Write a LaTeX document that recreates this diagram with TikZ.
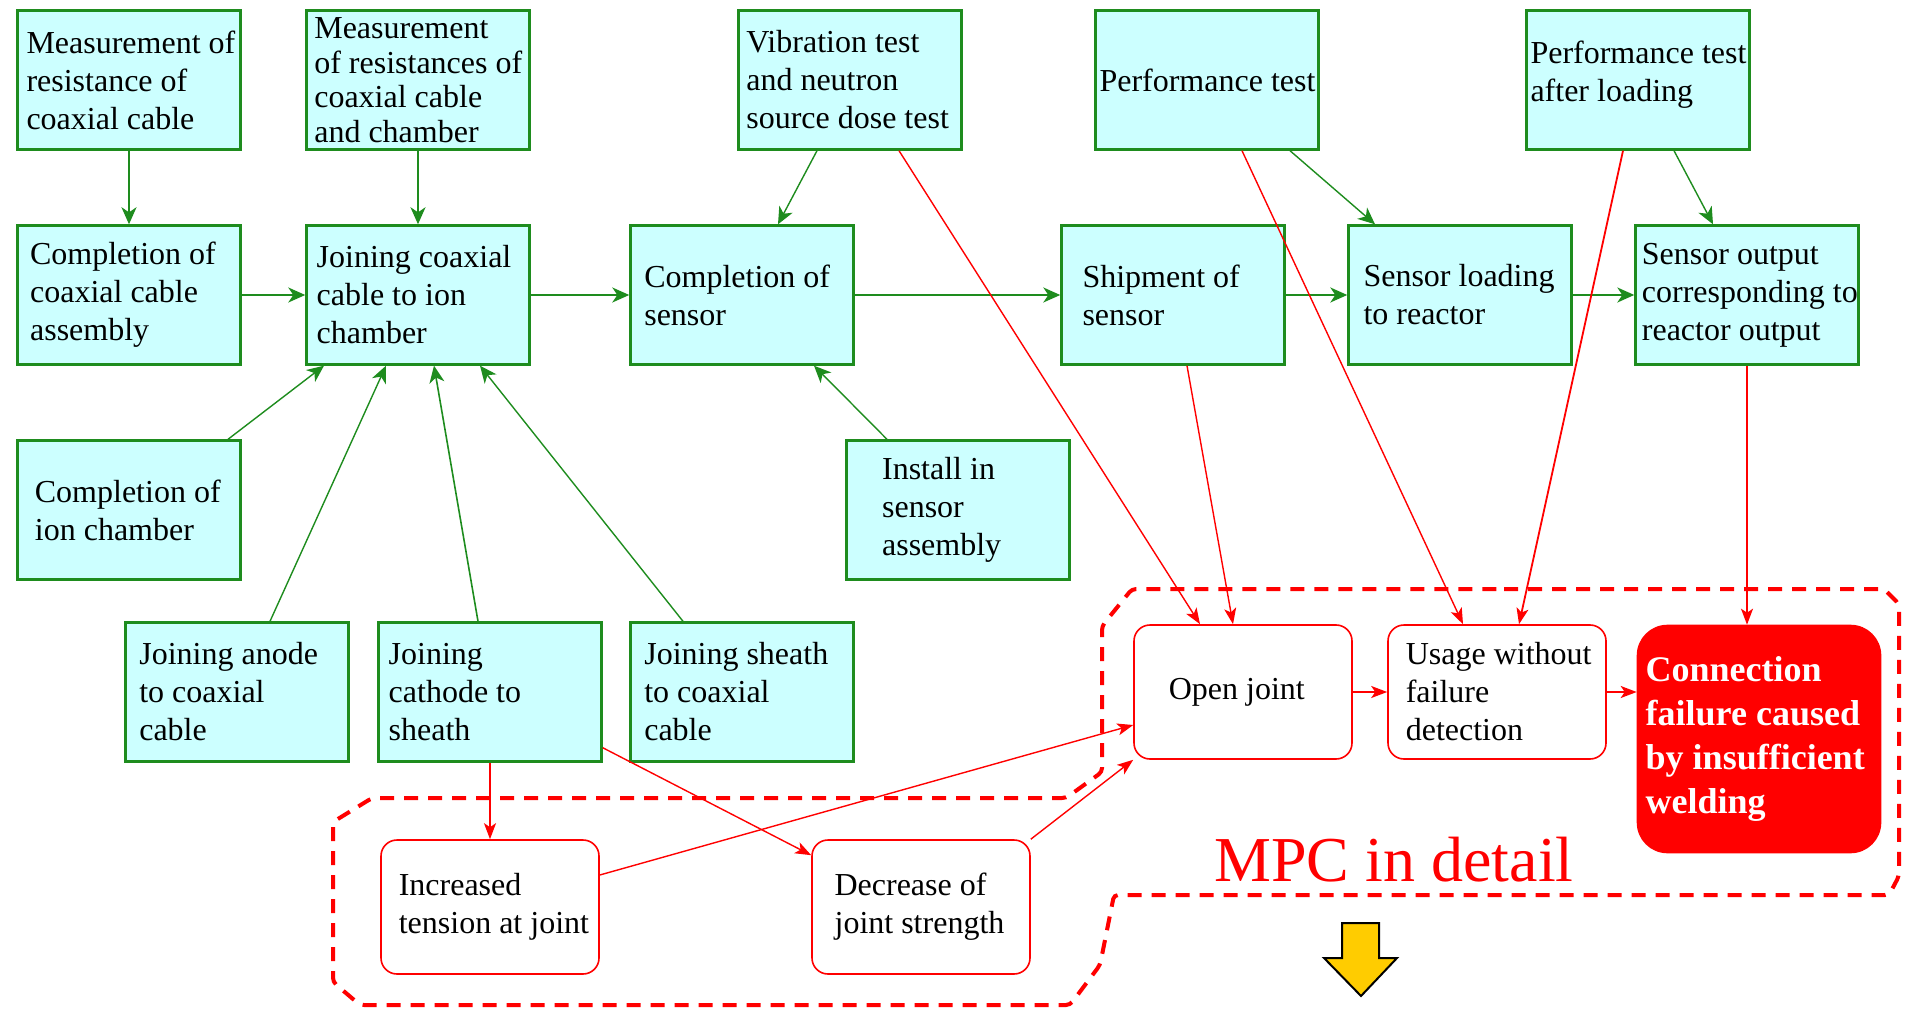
\documentclass[tikz,border=0pt]{standalone}
\usepackage{fontspec}
\setmainfont{Liberation Serif}
\usetikzlibrary{arrows.meta,positioning}
\definecolor{boxgreen}{RGB}{30,140,30}
\definecolor{boxcyan}{RGB}{204,255,255}
\definecolor{arrowyellow}{RGB}{255,204,0}
\begin{document}
\begin{tikzpicture}[x=0.5pt,y=-0.5pt,
  stepbox/.style={draw=boxgreen,line width=1.2pt,fill=boxcyan,minimum width=111.5pt,minimum height=69.5pt,inner sep=0pt},
  causebox/.style={draw=red,line width=0.8pt,fill=white,rounded corners=8pt,minimum width=109pt,minimum height=67pt,inner sep=0pt},
  steptext/.style={align=left,inner sep=0pt,font=\fontsize{16}{19}\selectfont},
  flow/.style={draw=boxgreen,line width=1pt,-{Stealth[length=8.5pt,width=7.5pt,inset=2.5pt]}},
  cause/.style={draw=red,line width=0.7pt,-{Stealth[length=8pt,width=6pt,inset=2pt]}}]
\useasboundingbox (0,0) rectangle (1905,1010);
\node[stepbox] (mresA) at (129,80) {};
\node[stepbox] (mresB) at (418,80) {};
\node[stepbox] (vib) at (850,80) {};
\node[stepbox] (perf) at (1207,80) {};
\node[stepbox] (perfload) at (1638,80) {};
\node[stepbox] (compcoax) at (129,295) {};
\node[stepbox] (joincoax) at (418,295) {};
\node[stepbox] (compsensor) at (742,295) {};
\node[stepbox] (ship) at (1173,295) {};
\node[stepbox] (loading) at (1460,295) {};
\node[stepbox] (output) at (1747,295) {};
\node[stepbox] (compion) at (129,510) {};
\node[stepbox] (install) at (958,510) {};
\node[stepbox] (anode) at (237,692) {};
\node[stepbox] (cathode) at (490,692) {};
\node[stepbox] (sheath) at (742,692) {};
\node[causebox] (open) at (1243,692) {};
\node[causebox] (usage) at (1497,692) {};
\node[causebox,fill=red,rounded corners=15pt,minimum width=121.5pt,minimum height=113.5pt] (conn) at (1759,739) {};
\node[causebox] (tension) at (490,907) {};
\node[causebox] (strength) at (921,907) {};
\node[steptext,right=4.9pt of mresA.west] (mresAtext) {Measurement of\\resistance of\\coaxial cable};
\node[steptext,right=4.3pt of mresB.west,font=\fontsize{16}{17.3}\selectfont] (mresBtext) {Measurement\\of resistances of\\coaxial cable\\and chamber};
\node[steptext,right=4.3pt of vib.west] (vibtext) {Vibration test\\and neutron\\source dose test};
\node[steptext,right=2.4pt of perf.west] (perftext) {Performance test};
\node[steptext,right=2.4pt of perfload.west,yshift=2.5pt] (perfloadtext) {Performance test\\after loading};
\node[steptext,right=6.7pt of compcoax.west] (compcoaxtext) {Completion of\\coaxial cable\\assembly};
\node[steptext,right=5.5pt of joincoax.west] (joincoaxtext) {Joining coaxial\\cable to ion\\chamber};
\node[steptext,right=7.3pt of compsensor.west] (compsensortext) {Completion of\\sensor};
\node[steptext,right=10.9pt of ship.west] (shiptext) {Shipment of\\sensor};
\node[steptext,right=7.9pt of loading.west] (loadingtext) {Sensor loading\\to reactor};
\node[steptext,right=3.6pt of output.west] (outputtext) {Sensor output\\corresponding to\\reactor output};
\node[steptext,right=9.1pt of compion.west] (compiontext) {Completion of\\ion chamber};
\node[steptext,right=18.2pt of install.west] (installtext) {Install in\\sensor\\assembly};
\node[steptext,right=7.3pt of anode.west] (anodetext) {Joining anode\\to coaxial\\cable};
\node[steptext,right=5.5pt of cathode.west] (cathodetext) {Joining\\cathode to\\sheath};
\node[steptext,right=7.3pt of sheath.west] (sheathtext) {Joining sheath\\to coaxial\\cable};
\node[steptext,right=17.6pt of open.west] (opentext) {Open joint};
\node[steptext,right=9.1pt of usage.west] (usagetext) {Usage without\\failure\\detection};
\node[steptext,right=4.3pt of conn.west,text=white,font=\fontsize{18}{22}\selectfont\bfseries] (conntext) {Connection\\failure caused\\by insufficient\\welding};
\node[steptext,right=9.1pt of tension.west] (tensiontext) {Increased\\tension at joint};
\node[steptext,right=11.5pt of strength.west] (strengthtext) {Decrease of\\joint strength};
\node[text=red,font=\fontsize{32}{38}\selectfont,anchor=base] (mpc) at (1394,881) {MPC in detail};
\draw[flow] (mresA) -- (compcoax);
\draw[flow] (mresB) -- (joincoax);
\draw[flow] (compcoax) -- (joincoax);
\draw[flow] (joincoax) -- (compsensor);
\draw[flow] (compsensor) -- (ship);
\draw[flow] (ship) -- (loading);
\draw[flow] (loading) -- (output);
\draw[flow,line width=0.7pt] ([xshift=-16.5pt]vib.south) -- ([xshift=18pt]compsensor.north);
\draw[flow,line width=0.7pt] ([xshift=41.5pt]perf.south) -- ([xshift=-42.5pt]loading.north);
\draw[flow,line width=0.7pt] ([xshift=18pt]perfload.south) -- ([xshift=-17pt]output.north);
\draw[flow,line width=0.7pt] ([xshift=49.5pt]compion.north) -- ([xshift=-47pt]joincoax.south);
\draw[flow,line width=0.7pt] ([xshift=16.5pt]anode.north) -- ([xshift=-16pt]joincoax.south);
\draw[flow,line width=0.8pt] ([xshift=-6pt]cathode.north) -- ([xshift=8pt]joincoax.south);
\draw[flow,line width=0.7pt] ([xshift=-29.5pt]sheath.north) -- ([xshift=31pt]joincoax.south);
\draw[flow,line width=0.7pt] ([xshift=-35.5pt]install.north) -- ([xshift=36pt]compsensor.south);
\draw[cause] ([xshift=24.5pt]vib.south) -- ([xshift=-21.5pt]open.north);
\draw[cause] ([xshift=7pt]ship.south) -- ([xshift=-5pt]open.north);
\draw[cause] ([xshift=17.5pt]perf.south) -- ([xshift=-17pt]usage.north);
\draw[cause,line width=0.9pt] ([xshift=-7.5pt]perfload.south) -- ([xshift=11pt]usage.north);
\draw[cause,line width=0.9pt] (output.south) -- ([xshift=-6pt]conn.north);
\draw[cause,line width=0.9pt] (open) -- (usage);
\draw[cause,line width=0.9pt] (usage.east) -- (usage.east -| conn.west);
\draw[cause,line width=0.9pt] (cathode.south) -- (tension.north);
\draw[cause] ([yshift=7.5pt]cathode.south east) -- ([yshift=-8pt]strength.north west);
\draw[cause] ([yshift=16pt]tension.east) -- ([yshift=-16.5pt]open.west);
\draw[cause] (strength.north east) -- (open.south west);
\draw[red,line width=2pt,dash pattern=on 7pt off 5pt,rounded corners=2pt] (1500,589) -- (1884,589) -- (1899,604) -- (1899,876) -- (1889,895) -- (1114,895) -- (1100,965) -- (1070,1005) -- (360,1005) -- (333,982) -- (333,822) -- (372,798) -- (1066,798) -- (1102,772) -- (1102,626) -- (1132,589) -- cycle;
\draw[fill=arrowyellow,line width=1pt] (1342,923) -- (1379,923) -- (1379,958) -- (1397,958) -- (1361,996) -- (1324,958) -- (1342,958) -- cycle;
\end{tikzpicture}
\end{document}
